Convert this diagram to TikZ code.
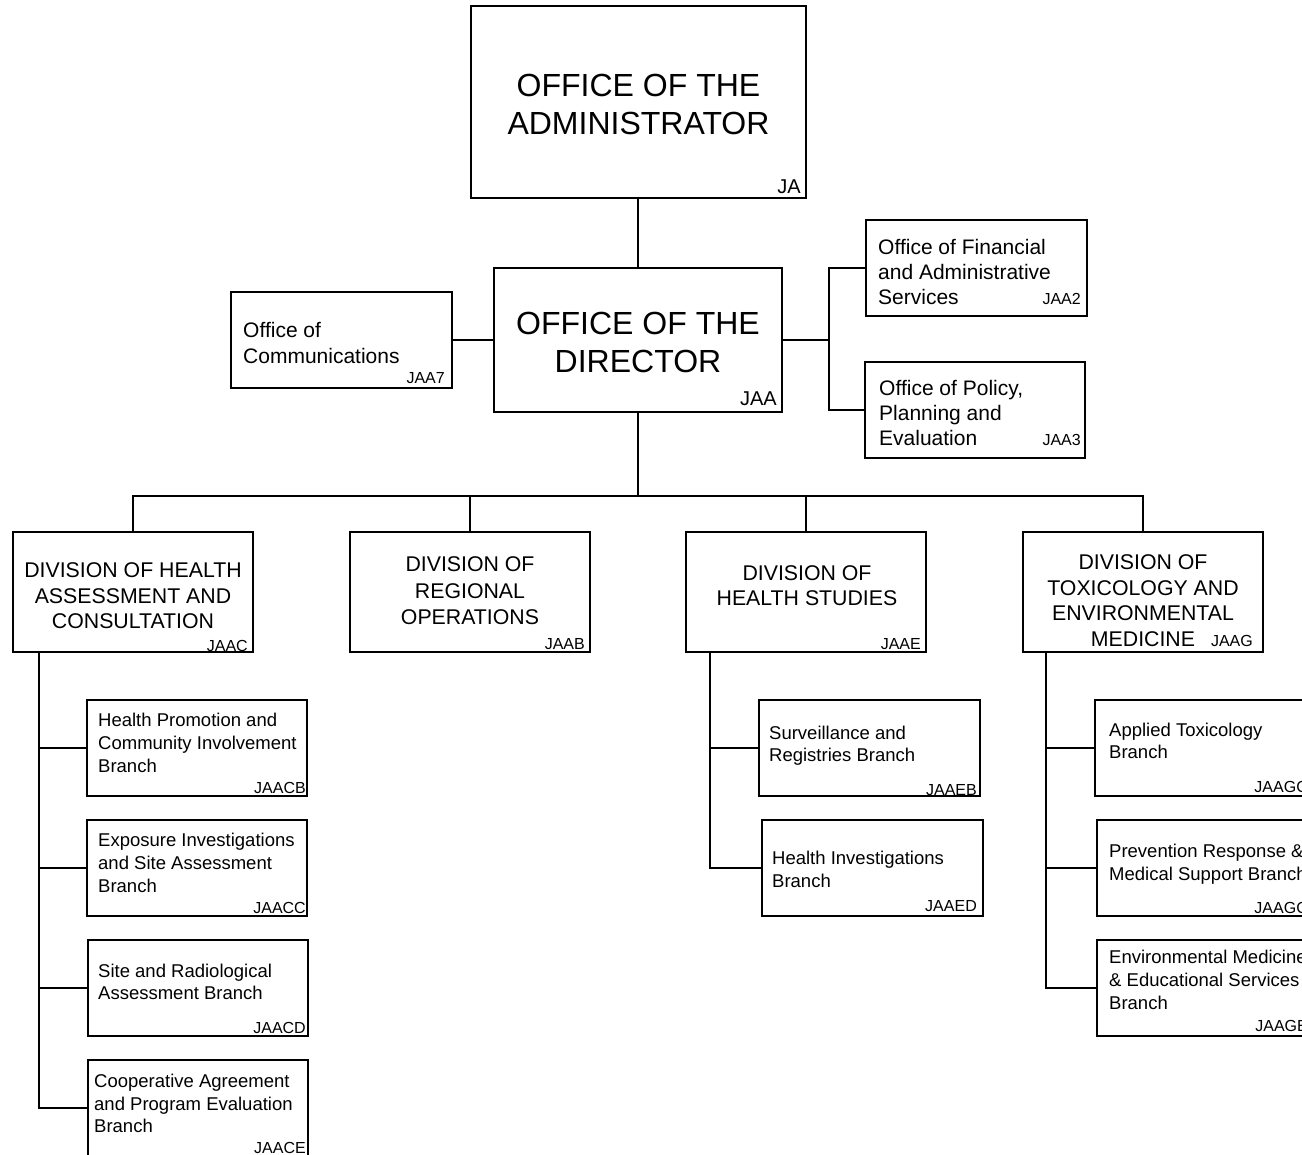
\documentclass[tikz,border=0pt]{standalone}
\usepackage{fontspec}
\setmainfont{Liberation Sans}
\newcommand\myfs[2]{\fontsize{#1}{#2}\selectfont}
\begin{document}
\begin{tikzpicture}[x=1pt,y=-1pt,
  box/.style={draw=black,line width=1.6pt,inner sep=0pt,minimum width=#1},
  box/.default=220pt,
  ttl/.style={inner sep=0pt,anchor=north,align=center,font=\myfs{32}{38}},
  dtx/.style={inner sep=0pt,anchor=north,align=center,font=\myfs{21.3}{25.5}},
  otx/.style={inner sep=0pt,anchor=north west,align=left,font=\myfs{21}{25}},
  btx/.style={inner sep=0pt,anchor=north west,align=left,font=\myfs{18.5}{23}},
  code/.style={inner sep=0pt,anchor=base east,font=\myfs{16}{19}},
  bigcode/.style={inner sep=0pt,anchor=base east,font=\myfs{20}{24}},
  conn/.style={line width=1.6pt,draw=black}]
\useasboundingbox (0,0) rectangle (1302,1155);
\clip (0,0) rectangle (1302,1155);
\fill[white] (0,0) rectangle (1302,1155);

% top offices
\node[box=335pt,minimum height=192pt] (ja) at (638.5,102) {};
\node[ttl] (jat) at (638.5,73.5) {OFFICE OF THE\\ADMINISTRATOR};
\node[bigcode] (jac) at (801,194) {JA};

\node[box=288pt,minimum height=144pt] (dir) at (638,340) {};
\node[ttl] (dirt) at (638,311.5) {OFFICE OF THE\\DIRECTOR};
\node[bigcode] (dirc) at (777,406) {JAA};

\node[box=221pt,minimum height=96pt] (comm) at (341.5,340) {};
\node[otx,font=\myfs{21}{25.5}] (commt) at (243,322.5) {Office of\\Communications};
\node[code] (commc) at (445,384) {JAA7};

\node[box=221pt,minimum height=96pt] (fin) at (976.5,268) {};
\node[otx] (fint) at (878,239.5) {Office of Financial\\and Administrative\\Services};
\node[code] (finc) at (1081,305) {JAA2};

\node[box=220pt,minimum height=96pt] (pol) at (975,410) {};
\node[otx] (polt) at (879,380.5) {Office of Policy,\\Planning and\\Evaluation};
\node[code] (polc) at (1081,446) {JAA3};

% divisions
\node[box=240pt,minimum height=120pt] (jaac) at (133,592) {};
\node[dtx] (jaact) at (133,562.5) {DIVISION OF HEALTH\\ASSESSMENT AND\\CONSULTATION};
\node[code] (jaacc) at (248,651) {JAAC};

\node[box=240pt,minimum height=120pt] (jaab) at (470,592) {};
\node[dtx,font=\myfs{21.3}{26.5}] (jaabt) at (470,556.5) {DIVISION OF\\REGIONAL\\OPERATIONS};
\node[code] (jaabc) at (585,649) {JAAB};

\node[box=240pt,minimum height=120pt] (jaae) at (806,592) {};
\node[dtx,font=\myfs{21.3}{25}] (jaaet) at (807,565.5) {DIVISION OF\\HEALTH STUDIES};
\node[code] (jaaec) at (921,649) {JAAE};

\node[box=240pt,minimum height=120pt] (jaag) at (1143,592) {};
\node[dtx] (jaagt) at (1143,554.5) {DIVISION OF\\TOXICOLOGY AND\\ENVIRONMENTAL\\MEDICINE\hspace{52pt}};
\node[code] (jaagc) at (1253,646) {JAAG};

% branches under JAAC
\node[box,minimum height=96pt] (b1) at (197,748) {};
\node[btx] (b1t) at (98,713.3) {Health Promotion and\\Community Involvement\\Branch};
\node[code] (b1c) at (306,793) {JAACB};

\node[box,minimum height=96pt] (b2) at (197,868) {};
\node[btx] (b2t) at (98,833.3) {Exposure Investigations\\and Site Assessment\\Branch};
\node[code] (b2c) at (306,913) {JAACC};

\node[box,minimum height=96pt] (b3) at (198,988) {};
\node[btx,font=\myfs{18.5}{22}] (b3t) at (98,964.3) {Site and Radiological\\Assessment Branch};
\node[code] (b3c) at (306,1033) {JAACD};

\node[box,minimum height=96pt] (b4) at (198,1108) {};
\node[btx,font=\myfs{18.5}{22.5}] (b4t) at (94,1074.3) {Cooperative Agreement\\and Program Evaluation\\Branch};
\node[code] (b4c) at (306,1153) {JAACE};

% branches under JAAE
\node[box=221pt,minimum height=96pt] (e1) at (869.5,748) {};
\node[btx,font=\myfs{18.5}{22}] (e1t) at (769,726.3) {Surveillance and\\Registries Branch};
\node[code] (e1c) at (977,795) {JAAEB};

\node[box=221pt,minimum height=96pt] (e2) at (872.5,868) {};
\node[btx,font=\myfs{18.5}{22.5}] (e2t) at (772,851) {Health Investigations\\Branch};
\node[code] (e2c) at (977,911) {JAAED};

% branches under JAAG
\node[box,minimum height=96pt] (g1) at (1205,748) {};
\node[btx,font=\myfs{18.5}{22}] (g1t) at (1109,723.3) {Applied Toxicology\\Branch};
\node[code] (g1c) at (1308,792) {JAAGC};

\node[box,minimum height=96pt] (g2) at (1207,868) {};
\node[btx,font=\myfs{18.5}{22.5}] (g2t) at (1109,844.3) {Prevention Response \&\\Medical Support Branch};
\node[code] (g2c) at (1308,913) {JAAGC};

\node[box,minimum height=96pt] (g3) at (1207,988) {};
\node[btx,font=\myfs{18.5}{23}] (g3t) at (1109,950.3) {Environmental Medicine\\\& Educational Services\\Branch};
\node[code] (g3c) at (1308,1031) {JAAGE};

% connectors
\coordinate (rb) at (829,340);
\coordinate (bus) at (638,496);
\coordinate (t1) at (39,652);
\coordinate (t2) at (710,652);
\coordinate (t3) at (1046,652);

\draw[conn] (dir.north) -- (dir.north |- ja.south);
\draw[conn] (comm.east) -- (dir.west);
\draw[conn] (dir.east) -- (rb);
\draw[conn] (fin.west) -| (rb);
\draw[conn] (pol.west) -| (rb);
\draw[conn] (dir.south) -- (bus);
\draw[conn] (jaac.north) |- (bus);
\draw[conn] (jaab.north) |- (bus);
\draw[conn] (jaae.north) |- (bus);
\draw[conn] (jaag.north) |- (bus);

\draw[conn] (t1) |- (b1.west);
\draw[conn] (t1) |- (b2.west);
\draw[conn] (t1) |- (b3.west);
\draw[conn] (t1) |- (b4.west);
\draw[conn] (t2) |- (e1.west);
\draw[conn] (t2) |- (e2.west);
\draw[conn] (t3) |- (g1.west);
\draw[conn] (t3) |- (g2.west);
\draw[conn] (t3) |- (g3.west);
\end{tikzpicture}
\end{document}
